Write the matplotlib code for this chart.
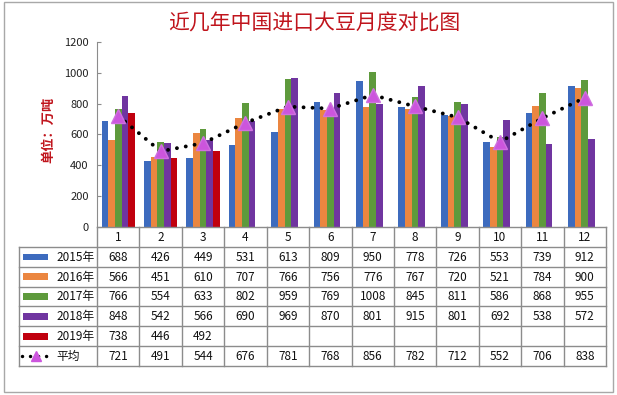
import matplotlib
matplotlib.use('Agg')
import matplotlib.pyplot as plt
from matplotlib.patches import Rectangle
from matplotlib.lines import Line2D
import numpy as np

plt.rcParams['font.family'] = ['Noto Sans CJK SC', 'DejaVu Sans']

title = '近几年中国进口大豆月度对比图'
ylabel = '单位：万吨'
months = ['1', '2', '3', '4', '5', '6', '7', '8', '9', '10', '11', '12']
series_names = ['2015年', '2016年', '2017年', '2018年', '2019年']
v2015 = [688, 426, 449, 531, 613, 809, 950, 778, 726, 553, 739, 912]
v2016 = [566, 451, 610, 707, 766, 756, 776, 767, 720, 521, 784, 900]
v2017 = [766, 554, 633, 802, 959, 769, 1008, 845, 811, 586, 868, 955]
v2018 = [848, 542, 566, 690, 969, 870, 801, 915, 801, 692, 538, 572]
v2019 = [738, 446, 492]
avg_name = '平均'
avg = [721, 491, 544, 676, 781, 768, 856, 782, 712, 552, 706, 838]
yticks = [0, 200, 400, 600, 800, 1000, 1200]

colors = ['#3D6BBE', '#EB8640', '#5E9A3C', '#7035A0', '#C0000E']
tri_color = '#CC55DD'
red_text = '#C0141C'
grid_gray = '#8C8C8C'

W, H = 617, 395
fig = plt.figure(figsize=(W / 100, H / 100), dpi=100)


def px(x0, y0, x1, y1):
    return [x0 / W, 1 - y1 / H, (x1 - x0) / W, (y1 - y0) / H]


# outer frame
fig.patches.append(Rectangle((4 / W, 1 - 392 / H), 609 / W, 390 / H,
                             transform=fig.transFigure, fill=False,
                             edgecolor='#A8A8A8', lw=1.0))

# main chart
ax = fig.add_axes(px(97, 42, 606, 227))
series = [v2015, v2016, v2017, v2018, v2019]
n = len(series)
bw = 0.157
x = np.arange(1, len(months) + 1)
for i, (vals, c) in enumerate(zip(series, colors)):
    xs = x[:len(vals)] + (i - (n - 1) / 2) * bw
    ax.bar(xs, vals, width=bw, color=c, zorder=2, linewidth=0)

ax.plot(x, avg, linestyle=(0, (0.01, 2.3)), color='black', lw=2.8,
        dash_capstyle='round', zorder=3)
ax.plot(x, avg, linestyle='none', marker='^', ms=10, color=tri_color,
        markeredgecolor='#D070E0', zorder=4)

ax.set_xlim(0.5, len(months) + 0.5)
ax.set_ylim(0, 1200)
ax.set_yticks(yticks)
ax.set_yticklabels([str(t) for t in yticks], fontsize=8, color='#222222')
ax.set_xticks([])
for s in ['top', 'right', 'bottom']:
    ax.spines[s].set_visible(False)
ax.spines['left'].set_color(grid_gray)
ax.tick_params(axis='y', direction='in', length=3, pad=6, color=grid_gray)
ax.patch.set_alpha(0)

fig.text(314 / W, 1 - 24 / H, title, color=red_text, fontsize=15,
         ha='center', va='center')
fig.text(48 / W, 1 - 130 / H, ylabel, color=red_text, fontsize=9.5,
         fontweight='bold', rotation=90, ha='center', va='center')

# data table
colw = (606 - 97) / len(months)
left = 0.5 - (97 - 19) / colw
right = len(months) + 0.5
nrows = 1 + len(series) + 1
tax = fig.add_axes(px(19, 227, 606, 366))
tax.set_xlim(left, right)
tax.set_ylim(nrows, 0)
tax.axis('off')

lkw = dict(color=grid_gray, lw=1.0, clip_on=False)
for k in range(len(months) + 1):
    tax.plot([0.5 + k, 0.5 + k], [0, nrows], **lkw)
tax.plot([left, left], [1, nrows], **lkw)
tax.plot([0.5, right], [0, 0], **lkw)
for r in range(1, nrows + 1):
    tax.plot([left, right], [r, r], **lkw)

tfs = 8.5
for j, m in enumerate(months):
    tax.text(j + 1, 0.55, m, ha='center', va='center', fontsize=tfs, color='#111111')

def xpx(p):
    return 0.5 + (p - 97) / colw

for i, (name, vals, c) in enumerate(zip(series_names, series, colors)):
    row = i + 1
    tax.add_patch(Rectangle((xpx(23), row + 0.34), xpx(48) - xpx(23), 0.34,
                            color=c, lw=0))
    tax.text(xpx(56), row + 0.52, name, ha='left', va='center', fontsize=tfs,
             color='#111111')
    for j, v in enumerate(vals):
        tax.text(j + 1, row + 0.52, str(v), ha='center', va='center',
                 fontsize=tfs, color='#111111')

row = len(series) + 1
tax.plot([xpx(22), xpx(50)], [row + 0.52, row + 0.52], linestyle=(0, (0.01, 2.3)),
         color='black', lw=2.5, dash_capstyle='round', clip_on=False)
tax.plot([(xpx(22) + xpx(50)) / 2], [row + 0.52], marker='^', ms=7, color=tri_color,
         linestyle='none', clip_on=False)
tax.text(xpx(56), row + 0.52, avg_name, ha='left', va='center', fontsize=tfs,
         color='#111111')
for j, v in enumerate(avg):
    tax.text(j + 1, row + 0.52, str(v), ha='center', va='center', fontsize=tfs,
             color='#111111')

fig.savefig('out.png', dpi=100)
